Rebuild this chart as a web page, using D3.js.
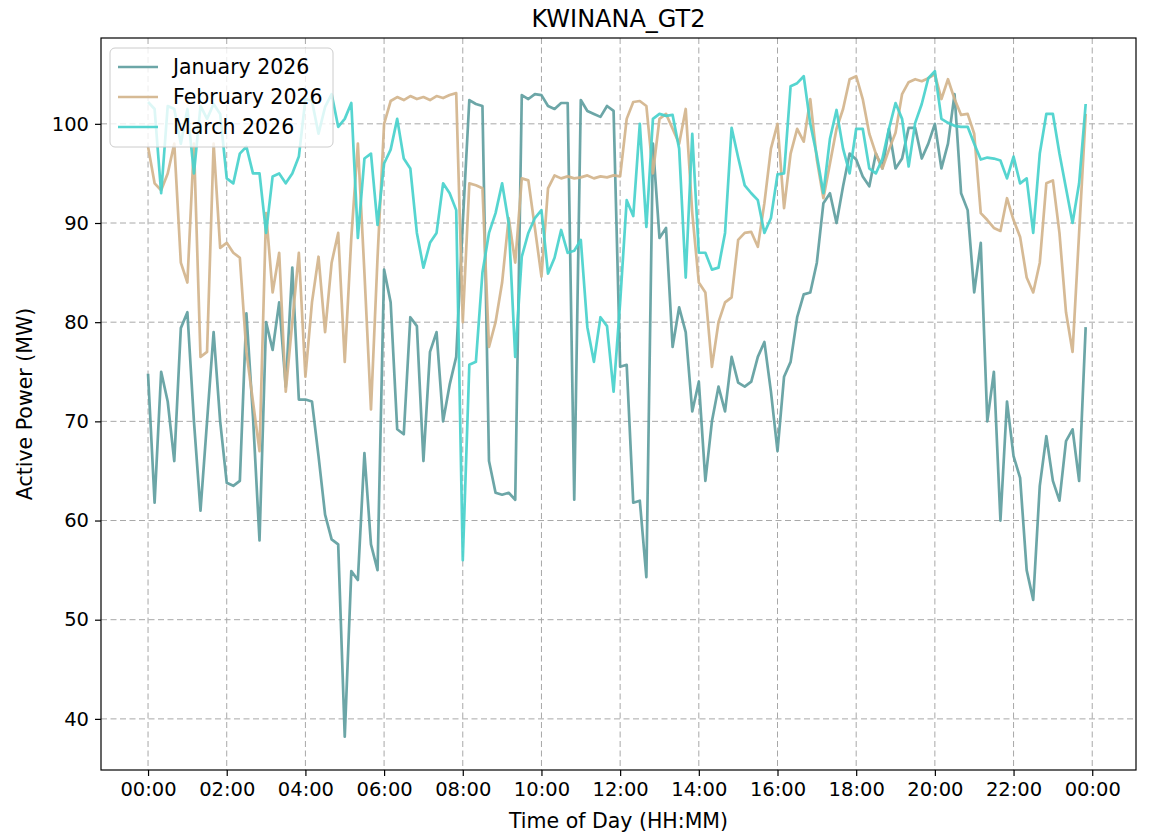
<!DOCTYPE html>
<html>
<head>
<meta charset="utf-8">
<script src="https://cdn.jsdelivr.net/npm/d3@7"></script>
<style>
  body { margin: 0; background: #fff; }
  svg text { font-family: "DejaVu Sans", sans-serif; fill: #000; }
</style>
</head>
<body>
<script>
const WIDTH = 1152;
const HEIGHT = 835;
const margin = {top: 38, right: 16, bottom: 65, left: 101};

// readings every 10 minutes, 00:00 .. 23:50
const STEP_MIN = 10;
const LAST_SAMPLE_MIN = 1435; // source data runs to 23:55

const january = [
  74.8, 61.8, 75.0, 72.0, 66.0, 79.4,
  81.0, 70.0, 61.0, 70.0, 79.0, 70.0,
  63.8, 63.5, 64.0, 80.9, 70.5, 58.0,
  80.0, 77.2, 82.0, 73.5, 85.5, 72.2,
  72.2, 72.0, 66.5, 60.6, 58.1, 57.6,
  38.2, 54.9, 54.0, 66.8, 57.6, 55.0,
  85.3, 82.0, 69.2, 68.7, 80.5, 79.6,
  66.0, 77.0, 79.0, 70.0, 73.7, 76.5,
  90.0, 102.4, 102.0, 101.8, 66.0, 62.8,
  62.6, 62.8, 62.1, 102.9, 102.5, 103.0,
  102.9, 101.8, 101.5, 102.1, 102.1, 62.1,
  102.4, 101.3, 101.0, 100.7, 101.8, 101.3,
  75.5, 75.7, 61.8, 62.0, 54.3, 98.0,
  88.5, 89.5, 77.5, 81.5, 79.0, 71.0,
  74.0, 64.0, 70.0, 73.5, 71.0, 76.5,
  73.9, 73.5, 74.0, 76.5, 78.0, 73.0,
  67.0, 74.5, 76.0, 80.5, 82.8, 83.0,
  86.0, 92.0, 93.0, 90.0, 93.7, 97.0,
  96.4, 94.7, 93.7, 97.0, 95.5, 99.5,
  95.5, 96.5, 99.6, 99.6, 96.5, 98.0,
  100.0, 95.5, 98.0, 103.0, 93.0, 91.3,
  83.0, 88.0, 70.0, 75.0, 60.0, 72.0,
  66.5, 64.3, 55.0, 52.0, 63.5, 68.5,
  64.0, 62.0, 68.0, 69.2, 64.0, 79.5
];

const february = [
  97.7, 94.0, 93.3, 95.0, 98.0, 86.0,
  84.0, 98.0, 76.5, 77.0, 98.0, 87.5,
  88.0, 87.0, 86.5, 77.0, 72.0, 67.0,
  91.0, 83.0, 87.0, 73.0, 80.0, 87.0,
  74.5, 82.0, 86.6, 79.0, 86.0, 89.0,
  76.0, 88.5, 98.0, 85.0, 71.2, 86.5,
  100.0, 102.3, 102.7, 102.4, 102.8, 102.5,
  102.7, 102.4, 102.8, 102.6, 102.9, 103.1,
  80.0, 94.0, 93.8, 93.5, 77.5, 80.0,
  84.0, 90.5, 86.0, 94.5, 94.3, 89.5,
  84.6, 93.5, 94.8, 94.5, 94.7, 94.5,
  94.6, 94.8, 94.5, 94.7, 94.6, 94.8,
  94.7, 100.5, 102.2, 102.3, 101.8, 95.0,
  100.5, 101.0, 99.5, 98.0, 101.5, 91.0,
  84.0, 83.0, 75.5, 80.0, 82.0, 82.5,
  88.3, 89.0, 89.1, 87.6, 92.0, 97.5,
  100.0, 91.5, 97.0, 99.5, 98.2, 102.5,
  96.4, 92.5, 96.0, 99.5, 101.5, 104.5,
  104.8, 102.5, 99.0, 97.0, 95.5, 97.4,
  99.1, 103.0, 104.2, 104.5, 104.3, 104.6,
  105.0, 102.5, 104.5, 102.5, 100.9, 101.0,
  99.0, 91.0, 90.3, 89.5, 89.2, 92.5,
  90.3, 88.6, 84.5, 83.0, 86.0, 94.0,
  94.3, 89.0, 81.0, 77.0, 89.0, 101.0
];

const march = [
  102.2, 101.5, 93.0, 101.8, 101.5, 98.0,
  101.5, 95.0, 101.8, 100.5, 102.0, 101.0,
  94.5, 94.0, 97.0, 97.7, 95.0, 95.0,
  89.0, 94.7, 95.0, 94.0, 95.0, 96.7,
  102.5, 102.3, 99.0, 101.7, 103.0, 99.7,
  100.5, 102.1, 88.5, 96.5, 97.0, 89.8,
  96.0, 97.4, 100.5, 96.5, 95.5, 89.0,
  85.5, 88.0, 89.0, 94.0, 93.0, 91.3,
  56.0, 75.7, 76.0, 85.0, 89.0, 91.0,
  94.0, 90.0, 76.5, 86.6, 89.0, 90.5,
  91.3, 84.9, 86.5, 89.3, 87.0, 87.2,
  88.3, 79.5, 76.0, 80.5, 79.6, 73.0,
  82.0, 92.3, 90.7, 100.0, 89.6, 100.5,
  101.0, 100.8, 100.9, 97.5, 84.5, 99.0,
  87.0, 87.0, 85.3, 85.5, 89.0, 99.6,
  96.6, 93.8, 93.0, 92.3, 89.0, 90.5,
  94.9, 95.0, 103.8, 104.1, 104.8, 100.0,
  96.8, 93.0, 98.5, 101.4, 97.5, 95.0,
  99.5, 99.5, 95.5, 95.0, 96.5, 99.5,
  102.1, 100.5, 95.7, 100.1, 102.0, 104.6,
  105.3, 100.5, 100.1, 99.8, 99.7, 99.7,
  98.0, 96.4, 96.6, 96.5, 96.3, 94.5,
  96.7, 94.0, 94.5, 89.0, 97.0, 101.0,
  101.0, 97.0, 93.5, 90.0, 94.0, 102.0
];

const seriesNames = ["January 2026", "February 2026", "March 2026"];
const seriesColors = ["#5f9ea0", "#d2b48c", "#48d1cc"];
const yTicks = [40, 50, 60, 70, 80, 90, 100];

const chartTitle = "KWINANA_GT2";
const xTitle = "Time of Day (HH:MM)";
const yTitle = "Active Power (MW)";

function setup(){
    let svg = d3.select("body")
        .append("svg")
        .attr("width", WIDTH)
        .attr("height", HEIGHT)
        .style("display", "block");

    svg.append("rect").attr("width", WIDTH).attr("height", HEIGHT).attr("fill", "#fff");

    let base = Date.UTC(2026, 0, 1);
    let minute = 60 * 1000;
    let series = [january, february, march].map((vals, k) => ({
        name: seriesNames[k],
        color: seriesColors[k],
        points: vals.map((v, i) => ({t: new Date(base + i * STEP_MIN * minute), v: v}))
    }));

    // matplotlib-like 5% margins
    let xPad = 0.05 * LAST_SAMPLE_MIN;
    let allVals = january.concat(february, march);
    let yMin = d3.min(allVals), yMax = d3.max(allVals);
    let yPad = 0.05 * (yMax - yMin);

    let plotW = WIDTH - margin.left - margin.right;
    let plotH = HEIGHT - margin.top - margin.bottom;

    let x = d3.scaleUtc()
        .domain([new Date(base - xPad * minute), new Date(base + (LAST_SAMPLE_MIN + xPad) * minute)])
        .range([margin.left, margin.left + plotW]);
    let y = d3.scaleLinear()
        .domain([yMin - yPad, yMax + yPad])
        .range([margin.top + plotH, margin.top]);

    // grid
    let grid = svg.append("g").attr("class", "grid")
        .attr("stroke", "#a8a8a8")
        .attr("stroke-width", 1)
        .attr("stroke-dasharray", "6,3.5");
    let xTickVals = x.ticks(d3.utcHour.every(2));
    grid.selectAll(".gx").data(xTickVals).enter().append("line")
        .attr("x1", d => x(d)).attr("x2", d => x(d))
        .attr("y1", margin.top).attr("y2", margin.top + plotH);
    grid.selectAll(".gy").data(yTicks).enter().append("line")
        .attr("x1", margin.left).attr("x2", margin.left + plotW)
        .attr("y1", d => y(d)).attr("y2", d => y(d));

    // lines
    let line = d3.line()
        .x(d => x(d.t))
        .y(d => y(d.v));
    svg.append("g").selectAll("path")
        .data(series)
        .enter()
        .append("path")
        .attr("d", d => line(d.points))
        .attr("fill", "none")
        .attr("stroke", d => d.color)
        .attr("stroke-width", 2.7)
        .attr("stroke-opacity", 0.92)
        .attr("stroke-linejoin", "round");

    // frame
    svg.append("rect")
        .attr("x", margin.left).attr("y", margin.top)
        .attr("width", plotW).attr("height", plotH)
        .attr("fill", "none").attr("stroke", "#000").attr("stroke-width", 1.2);

    // axes
    let xAxis = svg.append("g")
        .attr("transform", `translate(0,${margin.top + plotH})`)
        .call(d3.axisBottom(x)
            .tickValues(xTickVals)
            .tickFormat(d3.utcFormat("%H:%M"))
            .tickSize(6)
            .tickPadding(6));
    let yAxis = svg.append("g")
        .attr("transform", `translate(${margin.left},0)`)
        .call(d3.axisLeft(y)
            .tickValues(yTicks)
            .tickSize(6)
            .tickPadding(6));
    [xAxis, yAxis].forEach(a => {
        a.select(".domain").remove();
        a.selectAll(".tick line").attr("stroke", "#000").attr("stroke-width", 1.2);
        a.selectAll(".tick text")
            .attr("font-family", "DejaVu Sans")
            .attr("font-size", 19.5)
            .attr("fill", "#000");
    });

    // titles
    svg.append("text")
        .attr("x", margin.left + plotW / 2).attr("y", 27)
        .attr("text-anchor", "middle").attr("font-size", 24)
        .text(chartTitle);
    svg.append("text")
        .attr("x", margin.left + plotW / 2).attr("y", 828)
        .attr("text-anchor", "middle").attr("font-size", 20.5)
        .text(xTitle);
    svg.append("text")
        .attr("transform", `translate(32,${margin.top + plotH / 2}) rotate(-90)`)
        .attr("text-anchor", "middle").attr("font-size", 20.5)
        .text(yTitle);

    // legend
    let lg = svg.append("g").attr("transform", "translate(110,48)");
    lg.append("rect")
        .attr("width", 223).attr("height", 99)
        .attr("rx", 5).attr("ry", 5)
        .attr("fill", "#fff").attr("fill-opacity", 0.8)
        .attr("stroke", "#cccccc").attr("stroke-width", 1);
    let items = lg.selectAll(".item").data(series).enter().append("g")
        .attr("transform", (d, i) => `translate(0,${19 + i * 30})`);
    items.append("line")
        .attr("x1", 8).attr("x2", 48)
        .attr("stroke", d => d.color)
        .attr("stroke-width", 2.7)
        .attr("stroke-opacity", 0.92);
    items.append("text")
        .attr("x", 63).attr("dy", "0.35em")
        .attr("font-size", 20.5)
        .text(d => d.name);
}

window.addEventListener("load", setup);
</script>
</body>
</html>
